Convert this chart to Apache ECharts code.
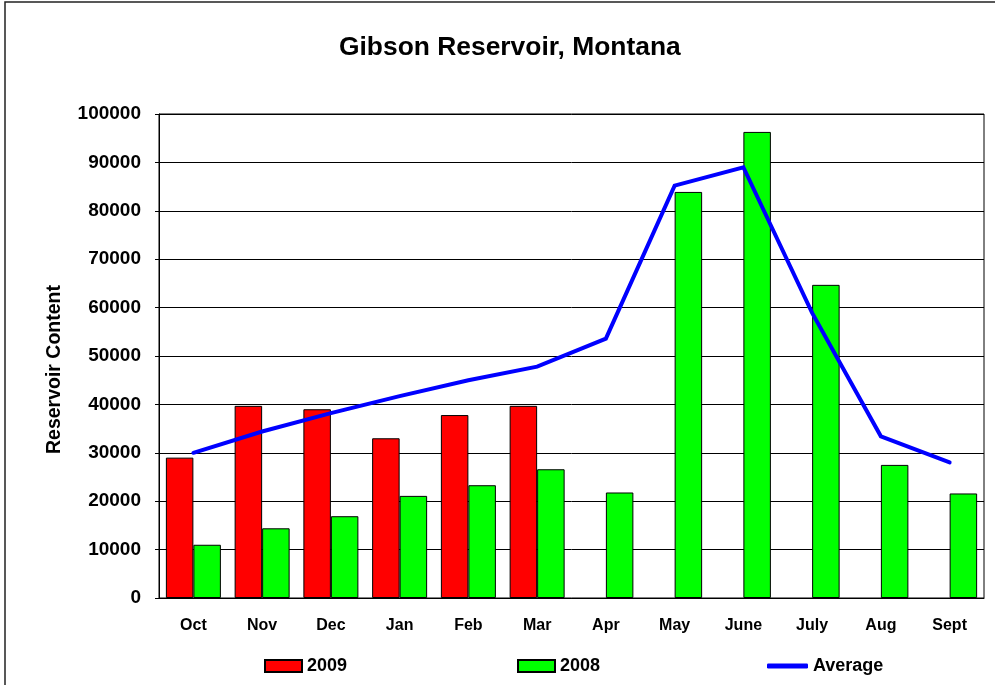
<!DOCTYPE html>
<html>
<head>
<meta charset="utf-8">
<script src="https://cdn.jsdelivr.net/npm/echarts@6/dist/echarts.min.js"></script>
<style>
html,body{margin:0;padding:0;background:#fff;}
#chart{width:995px;height:685px;}
</style>
</head>
<body>
<div id="chart"></div>
<script>
var months = ['Oct','Nov','Dec','Jan','Feb','Mar','Apr','May','June','July','Aug','Sept'];
var values2009 = [29000, 39700, 39000, 33000, 37800, 39700, null, null, null, null, null, null];
var values2008 = [11000, 14400, 16900, 21100, 23300, 26600, 21800, 83900, 96300, 64700, 27500, 21600];
var averageValues = [30000, 34400, 38200, 41700, 45000, 47800, 53600, 85200, 89000, 58900, 33400, 28000];
var yTicks = [0, 10000, 20000, 30000, 40000, 50000, 60000, 70000, 80000, 90000, 100000];

var FONT = '"Liberation Sans", Arial, sans-serif';
var chart = echarts.init(document.getElementById('chart'), null, {renderer: 'canvas'});
var legendText = {fontFamily: FONT, fontWeight: 'bold', fontSize: 18, color: '#000'};
chart.setOption({
  animation: false,
  backgroundColor: '#fff',
  textStyle: {fontFamily: FONT},
  title: {
    text: 'Gibson Reservoir, Montana',
    left: 339,
    top: 35,
    padding: 0,
    textStyle: {fontFamily: FONT, fontWeight: 'bold', fontSize: 26.4, color: '#000'}
  },
  graphic: [{
    type: 'rect',
    shape: {x: 5, y: 2, width: 1100, height: 800},
    style: {fill: 'none', stroke: '#222', lineWidth: 1.5},
    silent: true, z: 100
  }],
  legend: [
    {data: [{name: '2009', icon: 'rect'}], left: 264, top: 657, padding: 0, itemWidth: 37, itemHeight: 12,
     textStyle: legendText},
    {data: [{name: '2008', icon: 'rect'}], left: 517, top: 657, padding: 0, itemWidth: 37, itemHeight: 12,
     textStyle: legendText},
    {data: [{name: 'Average', icon: 'roundRect', itemStyle: {color: '#0000FF', borderWidth: 0}}],
     left: 767, top: 657, padding: 0, itemWidth: 41, itemHeight: 5,
     textStyle: legendText}
  ],
  grid: {
    left: 159, right: 11, top: 114, bottom: 87,
    show: true, borderColor: '#000', borderWidth: 1, backgroundColor: 'transparent'
  },
  xAxis: {
    type: 'category',
    data: months,
    axisTick: {show: false},
    axisLine: {lineStyle: {color: '#000', width: 1}},
    axisLabel: {fontFamily: FONT, fontWeight: 'bold', fontSize: 16, color: '#000', margin: 20}
  },
  yAxis: {
    type: 'value',
    min: 0, max: 100000, interval: 10000,
    name: 'Reservoir Content',
    nameLocation: 'middle',
    nameGap: 94,
    nameTextStyle: {fontFamily: FONT, fontWeight: 'bold', fontSize: 19.5, color: '#000', padding: [0, 27, 0, 0]},
    axisLine: {show: true, lineStyle: {color: '#000', width: 1}},
    axisTick: {show: true, length: 4, inside: false, lineStyle: {color: '#000'}},
    splitLine: {show: true, lineStyle: {color: '#000', width: 1}},
    axisLabel: {fontFamily: FONT, fontWeight: 'bold', fontSize: 19, color: '#000', margin: 18,
      formatter: function (v) { return yTicks.indexOf(v) >= 0 ? String(v) : ''; }}
  },
  series: [
    {
      name: '2009', type: 'bar', data: values2009,
      barGap: '0%', barCategoryGap: '20%',
      itemStyle: {color: '#FF0000', borderColor: '#000', borderWidth: 1}
    },
    {
      name: '2008', type: 'bar', data: values2008,
      barGap: '0%', barCategoryGap: '20%',
      itemStyle: {color: '#00FF00', borderColor: '#000', borderWidth: 1}
    },
    {
      name: 'Average', type: 'line', data: averageValues,
      symbol: 'none', showSymbol: false,
      lineStyle: {color: '#0000FF', width: 4, join: 'miter', cap: 'round'},
      itemStyle: {color: '#0000FF'},
      z: 5
    }
  ]
});
</script>
</body>
</html>
